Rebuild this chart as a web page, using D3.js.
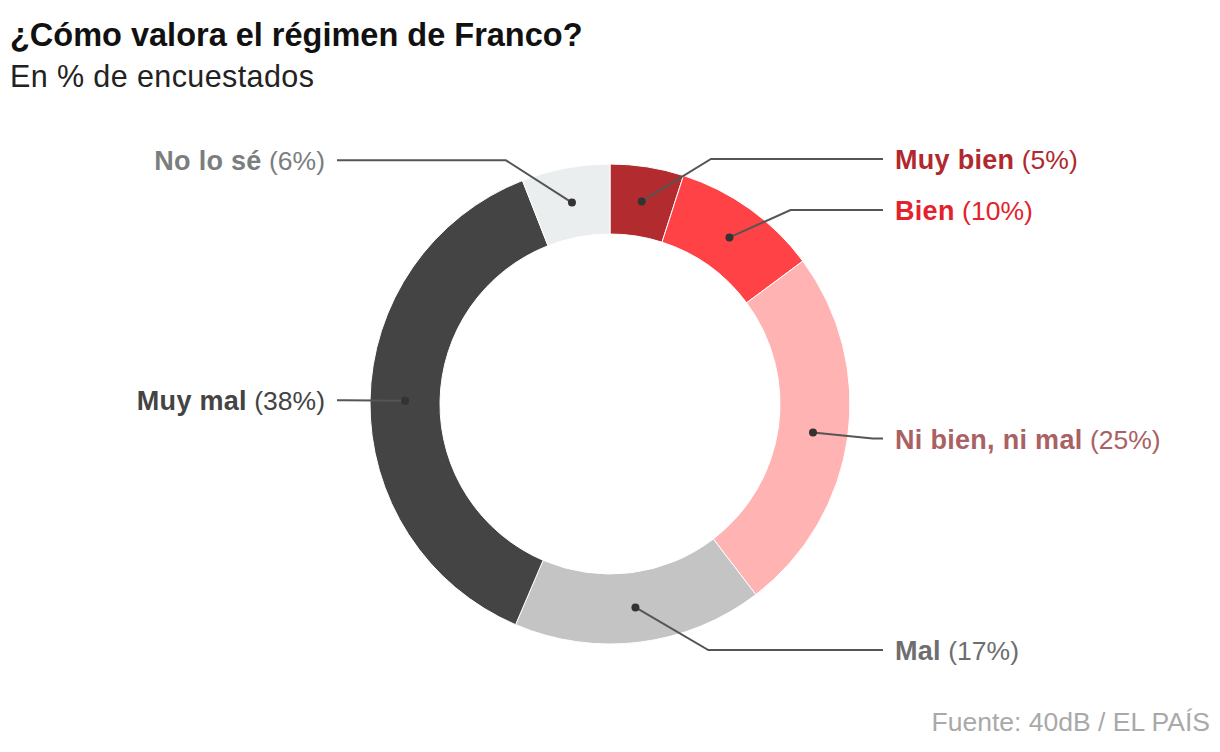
<!DOCTYPE html>
<html>
<head>
<meta charset="utf-8">
<script src="https://cdn.jsdelivr.net/npm/d3@7"></script>
<style>
  html, body { margin: 0; padding: 0; background: #fff; }
  svg { display: block; }
</style>
</head>
<body>
<div id="chart"></div>
<script>
// datos del gráfico
const categories = ['Muy bien', 'Bien', 'Ni bien, ni mal', 'Mal', 'Muy mal', 'No lo sé'];
const values = [5, 10, 25, 17, 38, 6];
const sliceColors = ['#b22b2f', '#ff4245', '#ffb3b2', '#c4c4c4', '#444444', '#eaeeef'];
const labelColors = ['#b0292e', '#e3222b', '#a96163', '#6e6e6e', '#444444', '#7b7e7e'];

const WIDTH = 1220;
const HEIGHT = 752;
const CX = 610;          // centro del donut
const CY = 404;
const OUTER_R = 240;
const INNER_R = 170;
const LABEL_R = 248;     // radio para la altura de las etiquetas
const ELBOW_R = 265;     // radio del codo de la línea guía
const LINE_RIGHT = 883;  // fin de la línea a la derecha
const LINE_LEFT = 337;   // fin de la línea a la izquierda
const MIN_GAP = 51;      // separación mínima entre etiquetas

const FONT = '"Liberation Sans", Arial, sans-serif';

const svg = d3.select('#chart').append('svg')
    .attr('width', WIDTH)
    .attr('height', HEIGHT);

// título y subtítulo
svg.append('text')
    .attr('x', 10).attr('y', 46)
    .attr('font-family', FONT)
    .attr('font-weight', 700)
    .attr('font-size', 32.5)
    .attr('fill', '#111')
    .text('¿Cómo valora el régimen de Franco?');

svg.append('text')
    .attr('x', 10).attr('y', 87)
    .attr('font-family', FONT)
    .attr('font-size', 30.5)
    .attr('letter-spacing', 0.4)
    .attr('fill', '#222')
    .text('En % de encuestados');

const data = categories.map((c, i) => ({ name: c, value: values[i], color: sliceColors[i], text: labelColors[i] }));

const pie = d3.pie().sort(null).value(d => d.value);
const arc = d3.arc().innerRadius(INNER_R).outerRadius(OUTER_R);
const arcs = pie(data);

const g = svg.append('g').attr('transform', `translate(${CX},${CY})`);

g.selectAll('path.slice')
    .data(arcs)
    .enter().append('path')
    .attr('class', 'slice')
    .attr('d', arc)
    .attr('fill', d => d.data.color)
    .attr('stroke', '#fff')
    .attr('stroke-width', 1);

// posición de las etiquetas
let labels = arcs.map(d => {
    const mid = (d.startAngle + d.endAngle) / 2;
    return {
        d: d,
        right: Math.sin(mid) >= 0,
        c: arc.centroid(d),
        y: -Math.cos(mid) * LABEL_R
    };
});

// evitar solapamientos en cada lado
[true, false].forEach(side => {
    let list = labels.filter(l => l.right === side).sort((a, b) => a.y - b.y);
    for (let i = 1; i < list.length; i++) {
        if (list[i].y - list[i - 1].y < MIN_GAP) {
            list[i].y = list[i - 1].y + MIN_GAP;
        }
    }
});

// líneas guía y etiquetas
labels.forEach(l => {
    const ly = l.y;
    const ex = (l.right ? 1 : -1) * Math.sqrt(ELBOW_R * ELBOW_R - ly * ly);
    const endX = (l.right ? LINE_RIGHT : LINE_LEFT) - CX;

    g.append('path')
        .attr('d', d3.line()([l.c, [ex, ly], [endX, ly]]))
        .attr('fill', 'none')
        .attr('stroke', '#555')
        .attr('stroke-width', 2);

    g.append('circle')
        .attr('cx', l.c[0]).attr('cy', l.c[1])
        .attr('r', 4)
        .attr('fill', '#333');

    const t = g.append('text')
        .attr('x', endX + (l.right ? 12 : -12))
        .attr('y', ly + 10)
        .attr('text-anchor', l.right ? 'start' : 'end')
        .attr('font-family', FONT)
        .attr('font-size', 27)
        .attr('fill', l.d.data.text);
    t.append('tspan')
        .attr('font-weight', 700)
        .attr('letter-spacing', 0.3)
        .text(l.d.data.name);
    t.append('tspan')
        .attr('font-size', 26.5)
        .text(' (' + l.d.data.value + '%)');
});

// fuente
svg.append('text')
    .attr('x', 1210).attr('y', 731)
    .attr('text-anchor', 'end')
    .attr('font-family', FONT)
    .attr('font-size', 26.5)
    .attr('fill', '#a9a9a9')
    .text('Fuente: 40dB / EL PAÍS');
</script>
</body>
</html>
